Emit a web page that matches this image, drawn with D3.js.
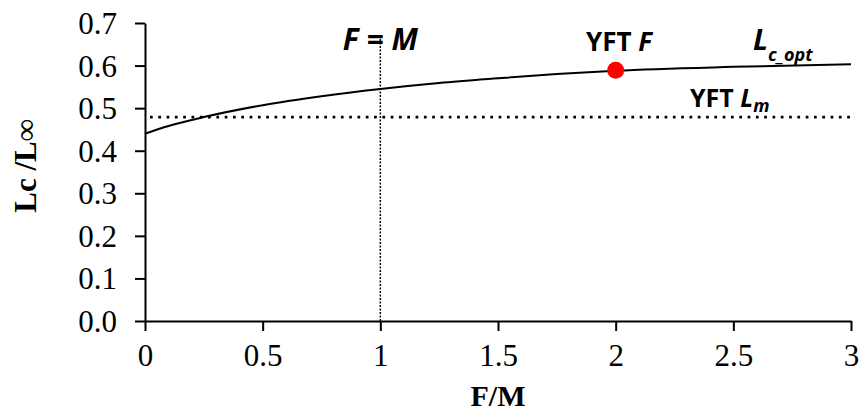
<!DOCTYPE html>
<html>
<head>
<meta charset="utf-8">
<script src="https://cdn.jsdelivr.net/npm/d3@7"></script>
<style>
  body { margin: 0; background: #fff; }
  .axis path, .axis line { stroke: #000; stroke-width: 2; }
  .axis text { font-family: 'Liberation Serif', 'Times New Roman', serif; font-size: 31px; fill: #000; }
  .note { font-family: 'Open Sans', sans-serif; font-weight: bold; fill: #000; }
</style>
</head>
<body>
<div id="chart"></div>
<script>
// F/M ratio and optimal length at first capture (Lc/Linf)
let fmRatio = [0, 0.1, 0.25, 0.5, 0.75, 1, 1.25, 1.5, 1.75, 2, 2.5, 3]
let lcOpt = [0.44, 0.458, 0.479, 0.507, 0.528, 0.545, 0.559, 0.57, 0.58, 0.588, 0.597, 0.603]

let xTicks = [0, 0.5, 1, 1.5, 2, 2.5, 3]
let yTicks = [0, 0.1, 0.2, 0.3, 0.4, 0.5, 0.6, 0.7]

let yftLm = 0.479
let yftF = [2, 0.589]
let fEqualsM = [1, 0.665]

let margin = { top: 23, left: 145, right: 10, bottom: 93 }
let width = 861 - margin.left - margin.right
let height = 414 - margin.top - margin.bottom

let svg = d3
  .select('#chart')
  .append('svg')
  .attr('width', width + margin.left + margin.right)
  .attr('height', height + margin.top + margin.bottom)
  .style('display', 'block')
  .append('g')
  .attr('transform', `translate(${margin.left}, ${margin.top})`)

let xPositionScale = d3.scaleLinear().domain([0, 3]).range([0, width])
let yPositionScale = d3.scaleLinear().domain([0, 0.7]).range([height, 0])

let points = fmRatio.map((d, i) => ({ fm: d, lc: lcOpt[i] }))

let xAxis = d3
  .axisBottom(xPositionScale)
  .tickValues(xTicks)
  .tickFormat(d => String(d))
  .tickSize(10)
  .tickSizeOuter(0)
  .tickPadding(13)
svg
  .append('g')
  .attr('class', 'axis x-axis')
  .attr('transform', 'translate(0,' + height + ')')
  .call(xAxis)

let yAxis = d3
  .axisLeft(yPositionScale)
  .tickValues(yTicks)
  .tickFormat(d3.format('.1f'))
  .tickSize(10)
  .tickSizeOuter(0)
  .tickPadding(18)
svg
  .append('g')
  .attr('class', 'axis y-axis')
  .call(yAxis)

svg.selectAll('.y-axis text').attr('dy', '0.34em')

// axis titles
svg
  .append('text')
  .attr('x', width / 2)
  .attr('y', height + 85)
  .attr('text-anchor', 'middle')
  .attr('font-family', "'Liberation Serif', 'Times New Roman', serif")
  .attr('font-weight', 'bold')
  .attr('font-size', 30)
  .text('F/M')

svg
  .append('text')
  .attr('transform', `translate(${36 - margin.left}, ${height / 2 - 6}) rotate(-90)`)
  .attr('text-anchor', 'middle')
  .attr('font-family', "'Liberation Serif', 'Times New Roman', serif")
  .attr('font-weight', 'bold')
  .attr('font-size', 31)
  .text('Lc /L∞')

// F = M reference line
svg
  .append('line')
  .attr('x1', xPositionScale(fEqualsM[0]))
  .attr('x2', xPositionScale(fEqualsM[0]))
  .attr('y1', yPositionScale(0))
  .attr('y2', yPositionScale(fEqualsM[1]))
  .attr('stroke', '#000')
  .attr('stroke-width', 1.5)
  .attr('stroke-dasharray', '2,1.5')

// YFT Lm dotted line
svg
  .append('line')
  .attr('x1', xPositionScale(0))
  .attr('x2', xPositionScale(3))
  .attr('y1', yPositionScale(yftLm))
  .attr('y2', yPositionScale(yftLm))
  .attr('stroke', '#000')
  .attr('stroke-width', 2.7)
  .attr('stroke-dasharray', '2.7,5.6')
  .attr('stroke-dashoffset', -5)

let line = d3
  .line()
  .x(d => xPositionScale(d.fm))
  .y(d => yPositionScale(d.lc))
  .curve(d3.curveMonotoneX)

svg
  .append('path')
  .datum(points)
  .attr('d', line)
  .attr('fill', 'none')
  .attr('stroke', '#000')
  .attr('stroke-width', 2)

svg
  .append('circle')
  .attr('cx', xPositionScale(yftF[0]))
  .attr('cy', yPositionScale(yftF[1]))
  .attr('r', 8.5)
  .attr('fill', '#ff0000')

// annotations
svg
  .append('text')
  .attr('class', 'note')
  .attr('x', xPositionScale(1))
  .attr('y', 50 - margin.top)
  .attr('text-anchor', 'middle')
  .attr('font-size', 30)
  .attr('font-style', 'italic')
  .text('F = M')

let yftFText = svg
  .append('text')
  .attr('class', 'note')
  .attr('x', 586 - margin.left)
  .attr('y', 51 - margin.top)
  .attr('font-size', 26)
yftFText.append('tspan').text('YFT ')
yftFText.append('tspan').attr('font-style', 'italic').text('F')

let lcText = svg
  .append('text')
  .attr('class', 'note')
  .attr('x', 753 - margin.left)
  .attr('y', 50 - margin.top)
  .attr('font-style', 'italic')
  .attr('font-size', 29)
lcText.append('tspan').text('L')
lcText
  .append('tspan')
  .attr('font-size', 18)
  .attr('dy', 11)
  .text('c_opt')

let lmText = svg
  .append('text')
  .attr('class', 'note')
  .attr('x', 690 - margin.left)
  .attr('y', 107 - margin.top)
  .attr('font-size', 25)
lmText.append('tspan').text('YFT ')
lmText.append('tspan').attr('font-style', 'italic').text('L')
lmText
  .append('tspan')
  .attr('font-style', 'italic')
  .attr('font-size', 18)
  .attr('dy', 5)
  .text('m')
</script>
</body>
</html>
